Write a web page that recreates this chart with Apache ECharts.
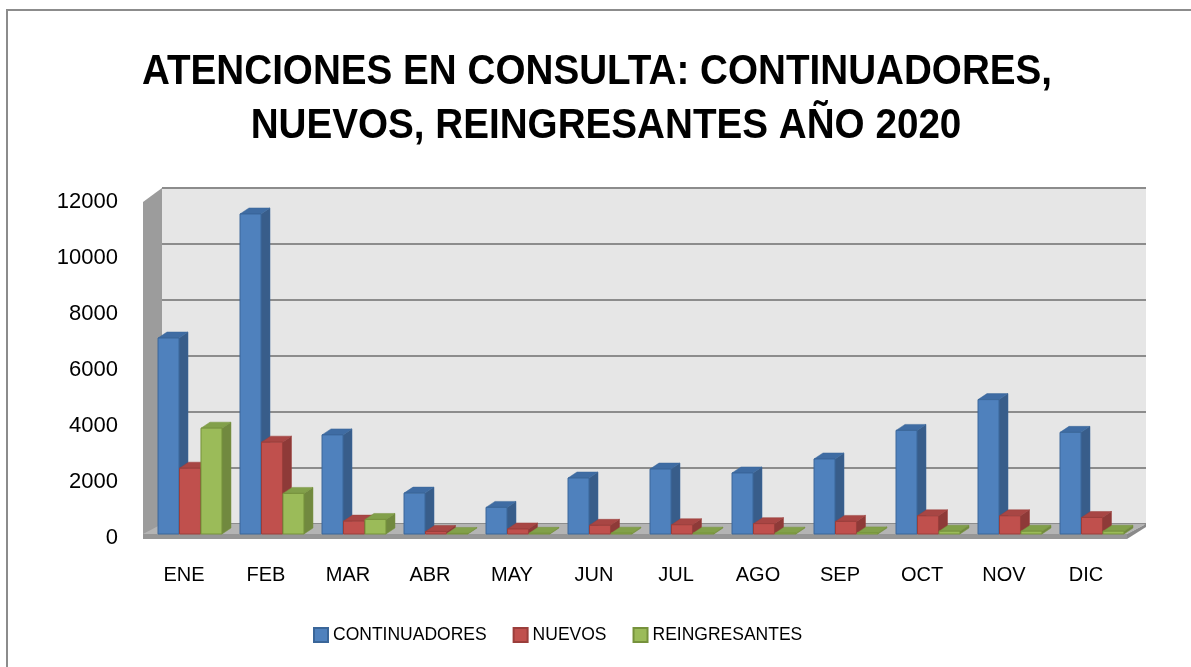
<!DOCTYPE html>
<html>
<head>
<meta charset="utf-8">
<script src="https://cdn.jsdelivr.net/npm/echarts@6/dist/echarts.min.js"></script>
<style>
  html, body { margin: 0; padding: 0; background: #fff; }
  #chart { width: 1191px; height: 667px; }
</style>
</head>
<body>
<div id="chart"></div>
<script>
// datos
const months = ['ENE', 'FEB', 'MAR', 'ABR', 'MAY', 'JUN', 'JUL', 'AGO', 'SEP', 'OCT', 'NOV', 'DIC'];
const continuadores = [7000, 11430, 3540, 1460, 950, 2000, 2320, 2180, 2680, 3700, 4800, 3630];
const nuevos = [2350, 3280, 460, 90, 180, 310, 330, 370, 450, 650, 650, 590];
const reingresantes = [3780, 1450, 520, 20, 25, 30, 30, 30, 40, 100, 100, 100];
const seriesNames = ['CONTINUADORES', 'NUEVOS', 'REINGRESANTES'];
const yMax = 12000;
const yStep = 2000;

// colores tipo Excel 2007 (frente / lado / tapa / borde)
const palette = [
  { front: '#4f81bd', side: '#385d8a', top: '#3f6ca3', edge: '#3a6699' },
  { front: '#c0504d', side: '#8e3a38', top: '#a84644', edge: '#9b3e3b' },
  { front: '#9bbb59', side: '#71893f', top: '#82a04a', edge: '#76923c' }
];

// caja 3D: frente, profundidad
const front = { l: 143, r: 1127, top: 202, base: 538 };
const depth = { dx: 19, dy: -14 };
const barDepth = { dx: 9, dy: -6 };
const barFrac = 0.256;
const barOffsets = [-0.262, 0, 0.262];

const W = 1191, H = 667;
const FONT = 'Liberation Sans';
const chart = echarts.init(document.getElementById('chart'));

function bar3d(idx) {
  const c = palette[idx];
  return function (params, api) {
    const cat = api.value(0);
    const val = api.value(1);
    const base = api.coord([cat, 0]);
    const topPt = api.coord([cat, val]);
    const band = api.size([1, 0])[0];
    const w = band * barFrac;
    const x0 = base[0] + band * barOffsets[idx] - w / 2;
    const x1 = x0 + w;
    const yb = base[1], yt = topPt[1];
    const dx = barDepth.dx, dy = barDepth.dy;
    return {
      type: 'group',
      children: [
        { type: 'polygon', shape: { points: [[x1, yb], [x1 + dx, yb + dy], [x1 + dx, yt + dy], [x1, yt]] },
          style: { fill: c.side, stroke: c.edge, lineWidth: 0.5 } },
        { type: 'polygon', shape: { points: [[x0, yt], [x0 + dx, yt + dy], [x1 + dx, yt + dy], [x1, yt]] },
          style: { fill: c.top, stroke: c.edge, lineWidth: 0.5 } },
        { type: 'rect', shape: { x: x0, y: yt, width: w, height: Math.max(yb - yt, 0) },
          style: { fill: c.front, stroke: c.edge, lineWidth: 1 } }
      ]
    };
  };
}

const seriesData = [continuadores, nuevos, reingresantes];

const back = { l: front.l + depth.dx, r: front.r + depth.dx, top: front.top + depth.dy, base: front.base + depth.dy };

const option = {
  animation: false,
  textStyle: { fontFamily: FONT },
  grid: [
    // pared del fondo
    { left: back.l, right: W - back.r, top: back.top, bottom: H - back.base,
      show: true, backgroundColor: '#e6e6e6', borderWidth: 0 },
    // eje frontal (etiquetas)
    { left: front.l, right: W - front.r, top: front.top, bottom: H - front.base },
    // barras (a media profundidad)
    { left: front.l + 6, right: W - front.r - 6, top: front.top - 4, bottom: H - front.base + 4 }
  ],
  xAxis: [
    { gridIndex: 0, type: 'category', data: months, show: false },
    { gridIndex: 1, type: 'category', data: months,
      axisLine: { show: false }, axisTick: { show: false },
      axisLabel: { color: '#000', fontSize: 20, margin: 27, fontFamily: FONT } },
    { gridIndex: 2, type: 'category', data: months, show: false }
  ],
  yAxis: [
    { gridIndex: 0, type: 'value', min: 0, max: yMax, interval: yStep,
      axisLabel: { show: false }, axisLine: { show: false }, axisTick: { show: false },
      splitLine: { show: true, lineStyle: { color: '#8c8c8c', width: 2 } } },
    { gridIndex: 1, type: 'value', min: 0, max: yMax, interval: yStep,
      axisLine: { show: false }, axisTick: { show: false }, splitLine: { show: false },
      axisLabel: { color: '#000', fontSize: 22, margin: 25, fontFamily: FONT,
        formatter: function (v) { return String(v); } } },
    { gridIndex: 2, type: 'value', min: 0, max: yMax, show: false, splitLine: { show: false } }
  ],
  legend: {
    left: 308, top: 621,
    itemWidth: 14, itemHeight: 14, itemGap: 26,
    icon: 'rect',
    textStyle: { color: '#000', fontSize: 17.5, fontFamily: FONT },
    data: seriesNames
  },
  graphic: [
    // borde exterior
    { type: 'rect', z: 1, shape: { x: 7, y: 10, width: 1220, height: 700 },
      style: { fill: null, stroke: '#8c8c8c', lineWidth: 2 } },
    // pared izquierda
    { type: 'polygon', z: 1,
      shape: { points: [[front.l, front.base], [front.l, front.top], [back.l, back.top], [back.l, back.base]] },
      style: { fill: '#9c9c9c' } },
    // piso
    { type: 'polygon', z: 1,
      shape: { points: [[front.l, front.base - 4], [front.r, front.base - 4], [back.r, back.base], [back.l, back.base]] },
      style: { fill: '#b4b4b4' } },
    { type: 'polygon', z: 1,
      shape: { points: [[front.l, front.base - 4], [front.r, front.base - 4], [front.r, front.base + 1], [front.l, front.base + 1]] },
      style: { fill: '#969696' } },
    { type: 'polygon', z: 1,
      shape: { points: [[front.r, front.base - 4], [back.r, back.base], [back.r, back.base + 3], [front.r, front.base + 1]] },
      style: { fill: '#8a8a8a' } },
    // titulo (comprimido en x para imitar una fuente estrecha)
    { type: 'text', z: 10, x: 597, y: 72, scaleX: 0.92,
      style: { text: 'ATENCIONES EN CONSULTA: CONTINUADORES,', fill: '#000',
        font: 'bold 42px "Liberation Sans", sans-serif',
        textAlign: 'center', textVerticalAlign: 'middle' } },
    { type: 'text', z: 10, x: 606, y: 126, scaleX: 0.92,
      style: { text: 'NUEVOS, REINGRESANTES AÑO 2020', fill: '#000',
        font: 'bold 42px "Liberation Sans", sans-serif',
        textAlign: 'center', textVerticalAlign: 'middle' } }
  ],
  series: seriesData.map(function (arr, i) {
    return {
      name: seriesNames[i],
      type: 'custom',
      xAxisIndex: 2,
      yAxisIndex: 2,
      z: 5,
      itemStyle: { color: palette[i].front, borderColor: palette[i].edge, borderWidth: 1 },
      renderItem: bar3d(i),
      encode: { x: 0, y: 1 },
      data: arr.map(function (v, k) { return [k, v]; })
    };
  })
};

chart.setOption(option);
</script>
</body>
</html>
